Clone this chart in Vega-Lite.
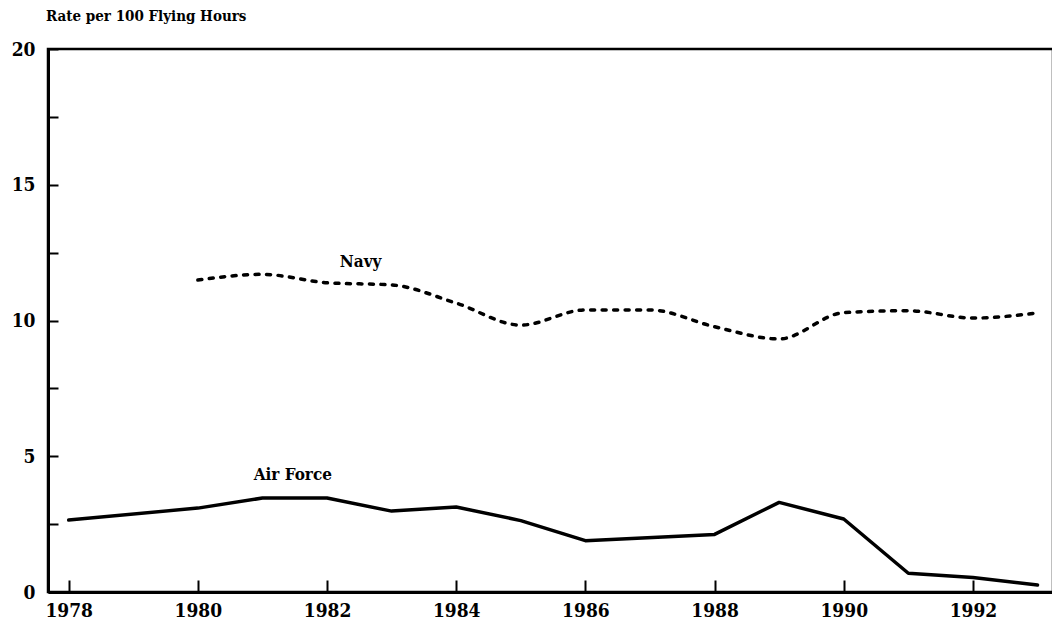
{
  "$schema": "https://vega.github.io/schema/vega-lite/v6.json",
  "width": 1005,
  "height": 543,
  "autosize": "none",
  "padding": {"left": 48, "top": 49, "right": 0, "bottom": 40},
  "background": "white",
  "title": {
    "text": "Rate per 100 Flying Hours",
    "anchor": "start",
    "frame": "group",
    "font": "DejaVu Serif Condensed",
    "fontSize": 15,
    "fontWeight": "bold",
    "color": "black",
    "offset": 16,
    "dx": -2
  },
  "config": {
    "view": {"stroke": "black", "strokeWidth": 2.5},
    "axis": {
      "grid": false,
      "domainColor": "black",
      "domainWidth": 3,
      "tickColor": "black",
      "tickWidth": 2,
      "labelFont": "DejaVu Serif Condensed",
      "labelFontWeight": "bold",
      "labelFontSize": 19,
      "labelColor": "black",
      "title": null
    }
  },
  "datasets": {
    "series": [
      {"year": 1978, "rate": 2.65, "service": "Air Force"},
      {"year": 1980, "rate": 3.09, "service": "Air Force"},
      {"year": 1981, "rate": 3.46, "service": "Air Force"},
      {"year": 1982, "rate": 3.46, "service": "Air Force"},
      {"year": 1983, "rate": 2.98, "service": "Air Force"},
      {"year": 1984, "rate": 3.13, "service": "Air Force"},
      {"year": 1985, "rate": 2.63, "service": "Air Force"},
      {"year": 1986, "rate": 1.89, "service": "Air Force"},
      {"year": 1988, "rate": 2.12, "service": "Air Force"},
      {"year": 1989, "rate": 3.30, "service": "Air Force"},
      {"year": 1990, "rate": 2.69, "service": "Air Force"},
      {"year": 1991, "rate": 0.69, "service": "Air Force"},
      {"year": 1992, "rate": 0.53, "service": "Air Force"},
      {"year": 1993, "rate": 0.26, "service": "Air Force"},
      {"year": 1980, "rate": 11.49, "service": "Navy"},
      {"year": 1981, "rate": 11.70, "service": "Navy"},
      {"year": 1982, "rate": 11.39, "service": "Navy"},
      {"year": 1983, "rate": 11.31, "service": "Navy"},
      {"year": 1984, "rate": 10.64, "service": "Navy"},
      {"year": 1985, "rate": 9.83, "service": "Navy"},
      {"year": 1986, "rate": 10.39, "service": "Navy"},
      {"year": 1987, "rate": 10.39, "service": "Navy"},
      {"year": 1988, "rate": 9.77, "service": "Navy"},
      {"year": 1989, "rate": 9.32, "service": "Navy"},
      {"year": 1990, "rate": 10.29, "service": "Navy"},
      {"year": 1991, "rate": 10.36, "service": "Navy"},
      {"year": 1992, "rate": 10.09, "service": "Navy"},
      {"year": 1993, "rate": 10.28, "service": "Navy"}
    ],
    "labels": [
      {"year": 1982.52, "rate": 12.15, "text": "Navy"},
      {"year": 1981.47, "rate": 4.3, "text": "Air Force"}
    ]
  },
  "layer": [
    {
      "data": {"name": "series"},
      "transform": [{"filter": "datum.service === 'Air Force'"}],
      "mark": {"type": "line", "color": "black", "strokeWidth": 3.5, "strokeJoin": "round", "strokeCap": "round"},
      "encoding": {
        "x": {
          "field": "year", "type": "quantitative",
          "scale": {"domain": [1977.68, 1993.24], "nice": false, "zero": false},
          "axis": {
            "values": [1978, 1980, 1982, 1984, 1986, 1988, 1990, 1992],
            "format": "d",
            "tickSize": -12,
            "labelPadding": 21
          }
        },
        "y": {
          "field": "rate", "type": "quantitative",
          "scale": {"domain": [0, 20], "nice": false},
          "axis": {
            "values": [0, 2.5, 5, 7.5, 10, 12.5, 15, 17.5, 20],
            "labelExpr": "datum.value % 5 === 0 ? datum.label : ''",
            "tickSize": -10,
            "labelPadding": 23
          }
        }
      }
    },
    {
      "data": {"name": "series"},
      "transform": [{"filter": "datum.service === 'Navy'"}],
      "mark": {"type": "line", "color": "black", "strokeWidth": 3.5, "strokeCap": "round", "strokeDash": [4, 7.5], "interpolate": "monotone"},
      "encoding": {
        "x": {"field": "year", "type": "quantitative"},
        "y": {"field": "rate", "type": "quantitative"}
      }
    },
    {
      "data": {"name": "labels"},
      "mark": {"type": "text", "font": "DejaVu Serif Condensed", "fontWeight": "bold", "fontSize": 17, "color": "black", "baseline": "middle", "align": "center"},
      "encoding": {
        "x": {"field": "year", "type": "quantitative"},
        "y": {"field": "rate", "type": "quantitative"},
        "text": {"field": "text"}
      }
    }
  ]
}
